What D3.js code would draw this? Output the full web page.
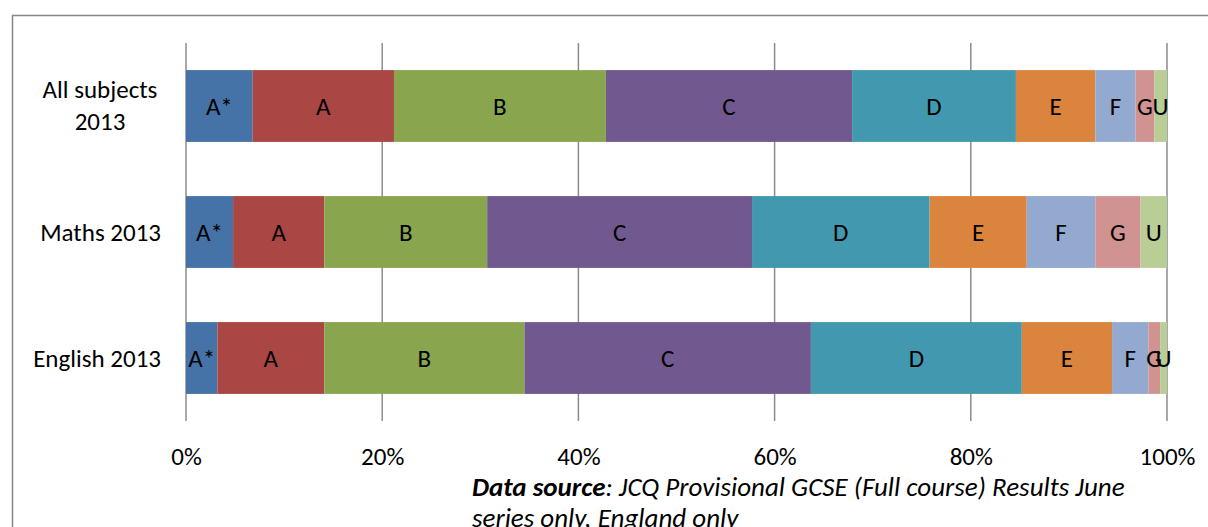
<!DOCTYPE html>
<html>
<head>
<meta charset="utf-8">
<script src="https://cdn.jsdelivr.net/npm/d3@7"></script>
<style>
  html, body { margin: 0; padding: 0; background: #fff; }
  svg { display: block; font-family: Carlito, Lato, "Open Sans", sans-serif; }
</style>
</head>
<body>
<svg id="chart" width="1208" height="527"></svg>
<script>
// ---- data ----
const categories = ["All subjects 2013", "Maths 2013", "English 2013"];
const grades = ["A*", "A", "B", "C", "D", "E", "F", "G", "U"];
const allSubjects = [6.8, 14.4, 21.6, 25.1, 16.7, 8.1, 4.1, 1.9, 1.3];
const maths2013   = [4.8, 9.3, 16.6, 27.0, 18.1, 9.9, 7.0, 4.6, 2.7];
const english2013 = [3.2, 10.9, 20.4, 29.2, 21.5, 9.2, 3.7, 1.2, 0.7];
const tickValues = [0, 0.2, 0.4, 0.6, 0.8, 1.0];
const gradeColors = ["#4572A7", "#AA4643", "#89A54E", "#71588F", "#4198AF", "#DB843D", "#93A9CF", "#D19392", "#B9CD96"];
const sourceBold = "Data source";
const sourceRest1 = ": JCQ Provisional GCSE (Full course) Results June";
const sourceLine2 = "series only, England only";

const seriesByCat = [allSubjects, maths2013, english2013];
const rows = categories.map((c, i) => {
  const o = { cat: c };
  const tot = d3.sum(seriesByCat[i]);
  grades.forEach((g, j) => o[g] = seriesByCat[i][j] / tot);
  return o;
});

const svg = d3.select("#chart");
const W = 1208, H = 527;
const FS = 25;

// border
svg.append("rect").attr("x", 12.5).attr("y", 15.5).attr("width", W + 10).attr("height", H + 10)
  .attr("fill", "#fff").attr("stroke", "#868686").attr("stroke-width", 1.5);

const x = d3.scaleLinear().domain([0, 1]).range([186, 1167]);
const y = d3.scaleBand().domain(categories).range([43, 421]).paddingInner(0.43).paddingOuter(0.215);
const color = d3.scaleOrdinal().domain(grades).range(gradeColors);

// gridlines
svg.append("g").selectAll("line").data(tickValues).join("line")
  .attr("x1", d => x(d)).attr("x2", d => x(d))
  .attr("y1", 43).attr("y2", 421)
  .attr("stroke", "#8c8c8c").attr("stroke-width", 1.5);

// x axis labels via d3 axis
const xAxis = d3.axisBottom(x).tickValues(tickValues).tickFormat(d3.format(".0%")).tickSize(0).tickPadding(0);
const ax = svg.append("g").attr("transform", "translate(0,456)").call(xAxis);
ax.select(".domain").remove();
ax.selectAll("text").attr("fill", "#000").attr("font-size", 25)
  .attr("font-family", "Carlito, Lato, 'Open Sans', sans-serif").attr("y", 0).attr("dy", "0.35em");

// stacked bars
const stack = d3.stack().keys(grades);
const stacked = stack(rows);
const layers = svg.append("g").selectAll("g").data(stacked).join("g")
  .attr("fill", d => color(d.key));
layers.selectAll("rect").data(d => d.map(v => ({ key: d.key, v }))).join("rect")
  .attr("x", d => x(d.v[0]))
  .attr("y", d => y(d.v.data.cat))
  .attr("width", d => x(d.v[1]) - x(d.v[0]))
  .attr("height", y.bandwidth());

// segment labels
const labels = svg.append("g").attr("font-size", FS).attr("fill", "#000").attr("text-anchor", "middle");
stacked.forEach(layer => {
  layer.forEach(v => {
    labels.append("text")
      .attr("x", (x(v[0]) + x(v[1])) / 2)
      .attr("y", y(v.data.cat) + y.bandwidth() / 2)
      .attr("dy", "0.35em")
      .text(layer.key);
  });
});

// category labels
const catG = svg.append("g").attr("font-size", FS).attr("fill", "#000");
categories.forEach(c => {
  const cy = y(c) + y.bandwidth() / 2;
  if (c === "All subjects 2013") {
    catG.append("text").attr("text-anchor", "middle").attr("x", 100).attr("y", cy - 8).text("All subjects");
    catG.append("text").attr("text-anchor", "middle").attr("x", 100).attr("y", cy + 24).text("2013");
  } else {
    catG.append("text").attr("text-anchor", "end").attr("x", 161).attr("y", cy).attr("dy", "0.35em").text(c);
  }
});

// data source note
const note = svg.append("g").attr("font-size", 27).attr("font-style", "italic").attr("fill", "#000");
const t1 = note.append("text").attr("x", 472).attr("y", 496);
t1.append("tspan").attr("font-weight", "bold").text(sourceBold);
t1.append("tspan").text(sourceRest1);
note.append("text").attr("x", 472).attr("y", 527).text(sourceLine2);
</script>
</body>
</html>
